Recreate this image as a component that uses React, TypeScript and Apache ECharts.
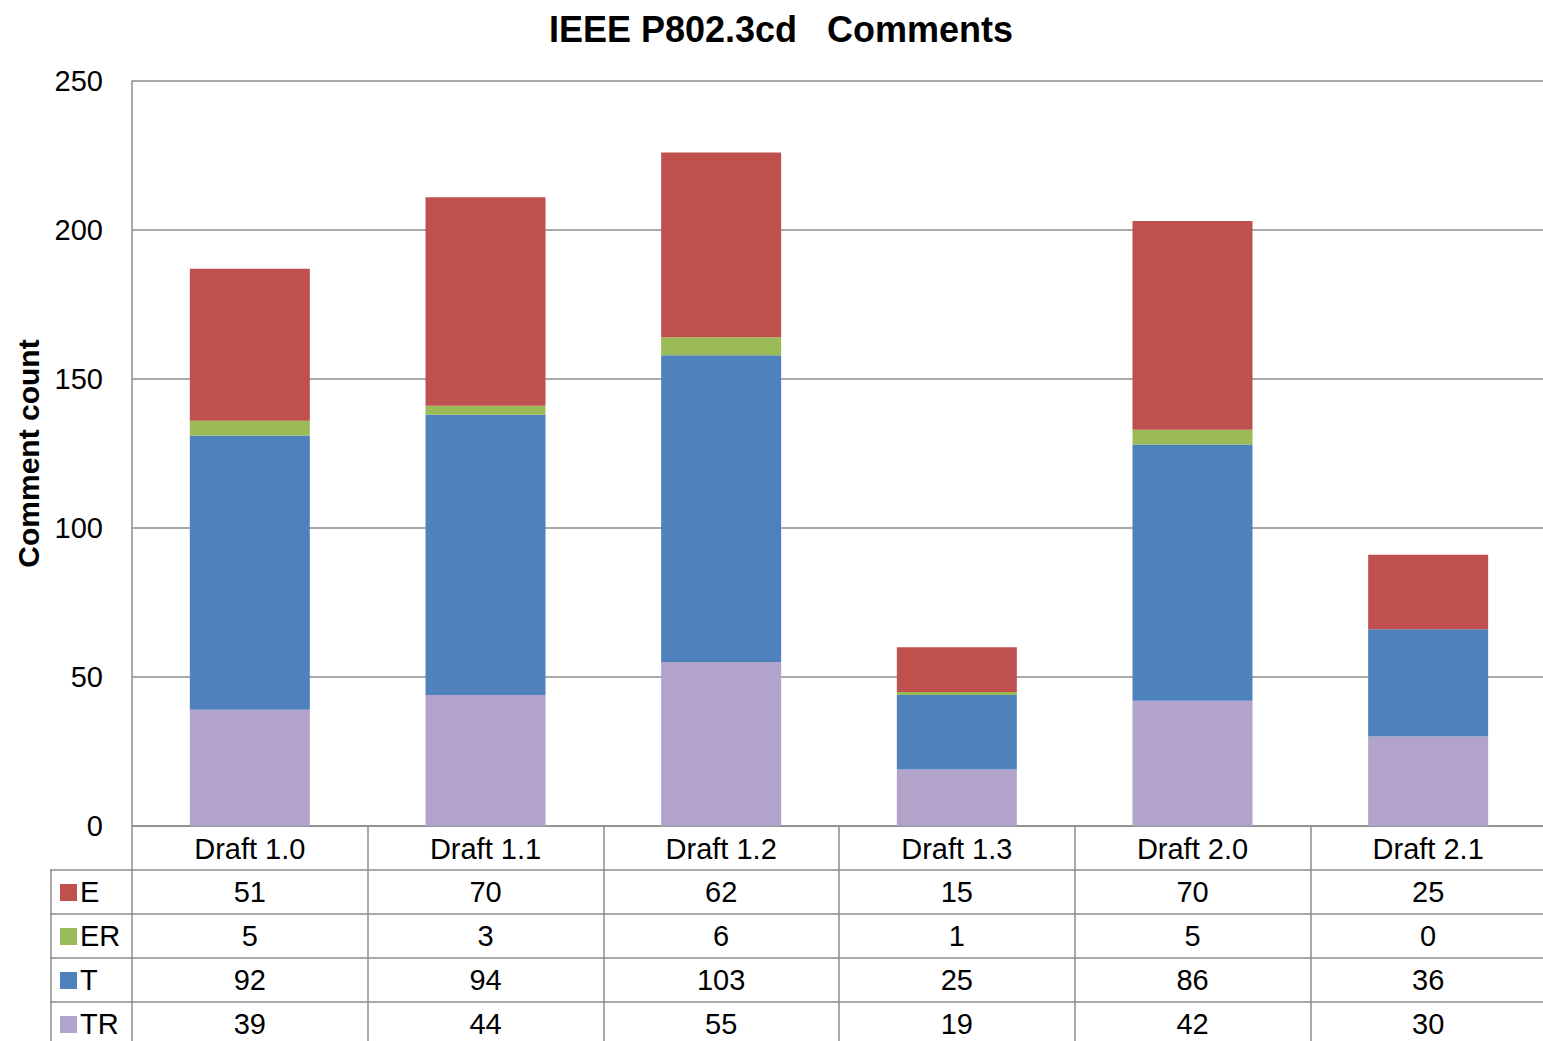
import React, { useEffect, useRef } from 'react';
import * as echarts from 'echarts';

const categories = ['Draft 1.0', 'Draft 1.1', 'Draft 1.2', 'Draft 1.3', 'Draft 2.0', 'Draft 2.1'];
const seriesNames = ['E', 'ER', 'T', 'TR'];
const eValues = [51, 70, 62, 15, 70, 25];
const erValues = [5, 3, 6, 1, 5, 0];
const tValues = [92, 94, 103, 25, 86, 36];
const trValues = [39, 44, 55, 19, 42, 30];
const yMin = 0;
const yMax = 250;
const yInterval = 50;

const colorMap: Record<string, string> = {
  E: '#C0504D',
  ER: '#9BBB59',
  T: '#4F81BD',
  TR: '#B1A3C9',
};
const valueMap: Record<string, number[]> = {
  E: eValues,
  ER: erValues,
  T: tValues,
  TR: trValues,
};

const FONT = '"Liberation Sans", Arial, sans-serif';
const LINE = '#8C8C8C';
const CANVAS_W = 1550;

export default function App() {
  const ref = useRef<HTMLDivElement>(null);

  useEffect(() => {
    if (!ref.current) return;
    const chart = echarts.init(ref.current, null, { renderer: 'svg' });

    const gridLeft = 132;
    const gridTop = 81;
    const gridHeight = 745;
    const gridWidth = 1414;
    const rowH = 44;
    const axisY = gridTop + gridHeight;

    const stackOrder = ['TR', 'T', 'ER', 'E'];

    chart.setOption({
      animation: false,
      title: {
        text: 'IEEE P802.3cd   Comments',
        left: 776,
        textAlign: 'center',
        top: 6,
        textStyle: { fontFamily: FONT, fontSize: 36, fontWeight: 'bold', color: '#000' },
      },
      grid: { left: gridLeft, top: gridTop, width: gridWidth, height: gridHeight, containLabel: false },
      xAxis: {
        type: 'category',
        data: categories,
        axisLine: { show: true, lineStyle: { color: LINE, width: 1.5 } },
        axisTick: { show: true, length: 216, lineStyle: { color: LINE, width: 1.5 } },
        axisLabel: {
          show: true,
          margin: 8,
          fontFamily: FONT,
          fontSize: 29,
          color: '#000',
          verticalAlign: 'top',
        },
      },
      yAxis: {
        type: 'value',
        min: yMin,
        max: yMax,
        interval: yInterval,
        name: 'Comment count',
        nameLocation: 'middle',
        nameRotate: 90,
        nameGap: 87,
        nameTextStyle: { fontFamily: FONT, fontSize: 30, fontWeight: 'bold', color: '#000' },
        axisLine: { show: true, lineStyle: { color: LINE, width: 1.5 } },
        axisTick: { show: false },
        axisLabel: { fontFamily: FONT, fontSize: 29, color: '#000', margin: 29 },
        splitLine: { show: true, lineStyle: { color: LINE, width: 1.5 } },
      },
      series: stackOrder.map((name) => ({
        name,
        type: 'bar',
        stack: 'total',
        barWidth: 120,
        data: valueMap[name],
        itemStyle: { color: colorMap[name] },
      })),
    });

    const graphics: any[] = [];
    const tableRight = CANVAS_W;
    seriesNames.forEach((name, r) => {
      const lineY = axisY + rowH * (r + 1);
      graphics.push({
        type: 'line',
        shape: { x1: 50, y1: lineY, x2: tableRight, y2: lineY },
        style: { stroke: LINE, lineWidth: 1.5 },
        silent: true,
      });
      const cy = lineY + rowH / 2;
      graphics.push({
        type: 'rect',
        shape: { x: 60, y: cy - 8, width: 17, height: 17 },
        style: { fill: colorMap[name] },
        silent: true,
      });
      graphics.push({
        type: 'text',
        x: 80,
        y: cy,
        style: {
          text: name,
          fontFamily: FONT,
          fontSize: 29,
          fill: '#000',
          textAlign: 'left',
          textVerticalAlign: 'middle',
        },
        silent: true,
      });
      valueMap[name].forEach((v, i) => {
        const px = chart.convertToPixel({ xAxisIndex: 0 }, categories[i]) as number;
        graphics.push({
          type: 'text',
          x: px,
          y: cy,
          style: {
            text: String(v),
            fontFamily: FONT,
            fontSize: 29,
            fill: '#000',
            textAlign: 'center',
            textVerticalAlign: 'middle',
          },
          silent: true,
        });
      });
    });
    graphics.push({
      type: 'line',
      shape: { x1: 51, y1: axisY + rowH, x2: 51, y2: 1041 },
      style: { stroke: LINE, lineWidth: 1.5 },
      silent: true,
    });

    chart.setOption({ graphic: graphics });

    return () => chart.dispose();
  }, []);

  return (
    <div
      ref={ref}
      style={{ position: 'fixed', left: 0, top: 0, width: CANVAS_W, height: 1041, background: '#fff' }}
    />
  );
}
